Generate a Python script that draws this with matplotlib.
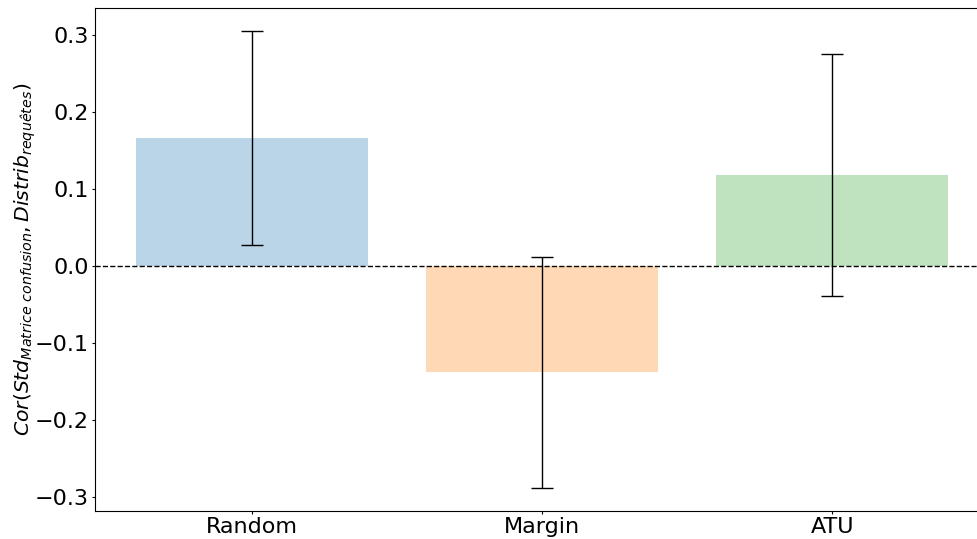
import matplotlib
matplotlib.use("Agg")
import matplotlib.pyplot as plt
import numpy as np

methods = ["Random", "Margin", "ATU"]
corr_mean = [0.166, -0.138, 0.118]
corr_err = [0.139, 0.150, 0.157]
colors = ["tab:blue", "tab:orange", "tab:green"]

fig = plt.figure(figsize=(9.77, 5.39), dpi=100)
# axes runs slightly past the right edge of the figure, as in the original
ax = fig.add_axes([95 / 977, 28 / 539, (989 - 95) / 977, (511 - 8) / 539])

x = np.arange(len(methods))
ax.bar(x, corr_mean, width=0.8, color=colors, alpha=0.3)
ax.errorbar(x, corr_mean, yerr=corr_err, fmt="none", ecolor="k", capsize=8, elinewidth=1)
ax.axhline(0, color="k", linestyle="--", linewidth=1)

ax.set_xticks(x)
ax.set_xticklabels(methods, fontsize=16)
ax.tick_params(axis="both", labelsize=16, length=2.5, pad=2)
ax.set_ylim(-0.318, 0.335)
ax.set_yticks([-0.3, -0.2, -0.1, 0.0, 0.1, 0.2, 0.3])
ax.set_ylabel(r"$Cor(Std_{Matrice\ confusion}, Distrib_{requêtes})$", fontsize=14.7, labelpad=-2)

fig.savefig("out.png", dpi=100)
